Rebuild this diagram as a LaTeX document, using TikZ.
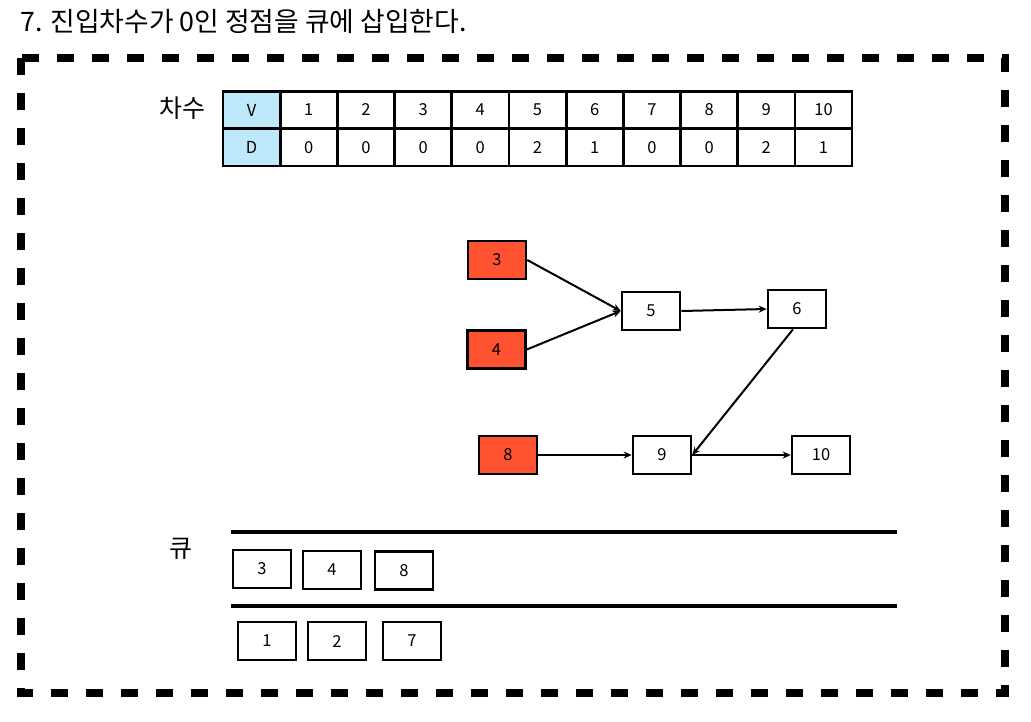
\documentclass[tikz,border=0pt]{standalone}
\usepackage{fontspec}
\setmainfont{Noto Sans CJK KR}
\usetikzlibrary{arrows.meta}
\definecolor{vred}{RGB}{255,82,48}
\definecolor{vblue}{RGB}{190,233,250}
\tikzset{
  cell/.style={draw=black, line width=2.6pt, minimum width=57pt, minimum height=37pt, inner sep=0pt, font=\fontsize{16.5}{18}\selectfont},
  hdr/.style={cell, fill=vblue},
  vbox/.style={draw=black, line width=2.6pt, minimum width=58pt, minimum height=38pt, inner sep=0pt, font=\fontsize{16.5}{18}\selectfont, fill=white},
  hot/.style={vbox, fill=vred},
  edge/.style={line width=2pt, -{Stealth[length=8pt,width=7pt]}},
  qline/.style={line width=3.5pt},
  lbl/.style={font=\fontsize{25}{30}\selectfont, inner sep=0pt}
}
\begin{document}
\begin{tikzpicture}[x=1pt,y=-1pt]
\useasboundingbox (0,0) rectangle (1031,721);
\fill[white] (0,0) rectangle (1031,721);
% title
\node[lbl, font=\fontsize{26.8}{30}\selectfont, anchor=west] (title) at (20,21) {7. 진입차수가 0인 정점을 큐에 삽입한다.};
% dashed frame
\draw[line width=8pt, dash pattern=on 17pt off 18pt] (21,58) rectangle (1005,693);
% table
\node[lbl] (deg) at (182,108) {차수};
\node[hdr] (hV) at (251.5,110) {V};
\node[hdr] (hD) at (251.5,147.5) {D};
\foreach \i/\d [count=\k] in {1/0,2/0,3/0,4/0,5/2,6/1,7/0,8/0,9/2,10/1}{
  \node[cell] (v\i) at ({251.5+57.2*\k},110) {\i};
  \node[cell] (d\i) at ({251.5+57.2*\k},147.5) {\d};
}
% graph
\node[hot] (n3) at (497,260) {3};
\node[hot] (n4) at (496.5,349.5) {4};
\node[vbox] (n5) at (651,311) {5};
\node[vbox] (n6) at (797,309) {6};
\node[hot] (n8) at (508,455) {8};
\node[vbox] (n9) at (662,455) {9};
\node[vbox] (n10) at (821,455) {10};
\draw[edge] (n3.east) -- (n5.west);
\draw[edge] (n4.east) -- (n5.west);
\draw[edge] (n5.east) -- (n6.west);
\draw[edge] ([xshift=-4pt]n6.south) -- (n9.east);
\draw[edge] (n8.east) -- (n9.west);
\draw[edge] (n9.east) -- (n10.west);
% queue
\node[lbl] (q) at (181,549) {큐};
\coordinate (qa1) at (231,532);
\coordinate (qa2) at (897,532);
\coordinate (qb1) at (231,606);
\coordinate (qb2) at (897,606);
\draw[qline] (qa1) -- (qa2);
\draw[qline] (qb1) -- (qb2);
\node[vbox] (q3) at (262,569) {3};
\node[vbox] (q4) at (332,570) {4};
\node[vbox] (q8) at (404,570.5) {8};
\node[vbox] (o1) at (267,641) {1};
\node[vbox] (o2) at (337,641) {2};
\node[vbox] (o7) at (412,641) {7};
\end{tikzpicture}
\end{document}
